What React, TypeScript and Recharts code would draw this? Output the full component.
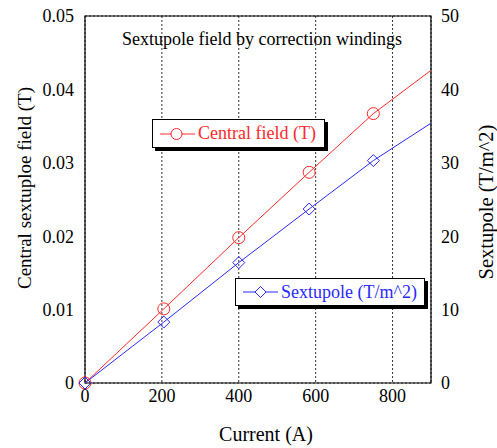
import { ComposedChart, Line, XAxis, YAxis, CartesianGrid, ReferenceArea } from "recharts"

const current = [0, 205, 400, 583, 750, 900]
const centralField = [0, 0.0101, 0.0198, 0.0287, 0.0367, 0.0426]
const sextupole = [0, 8.3, 16.4, 23.7, 30.3, 35.4]
// last point is the extrapolated fit end, drawn without a marker
const measured = [true, true, true, true, true, false]

const xTicks = [0, 200, 400, 600, 800]
const leftTicks = [0, 0.01, 0.02, 0.03, 0.04, 0.05]
const rightTicks = [0, 10, 20, 30, 40, 50]

const RED = "#ff2a2a"
const BLUE = "#2a2aff"
const FONT = "Liberation Serif, DejaVu Serif, serif"

const data = current.map((x, i) => ({
  x,
  field: centralField[i],
  sext: sextupole[i],
  measured: measured[i],
}))

function CircleDot(props: any) {
  const { cx, cy, payload } = props
  if (!payload?.measured) return <g />
  return <circle cx={cx} cy={cy} r={6} fill="none" stroke={RED} strokeWidth={1} />
}

function DiamondDot(props: any) {
  const { cx, cy, payload } = props
  if (!payload?.measured) return <g />
  const r = 6
  return (
    <path
      d={`M${cx},${cy - r} L${cx + r},${cy} L${cx},${cy + r} L${cx - r},${cy} Z`}
      fill="none"
      stroke={BLUE}
      strokeWidth={1}
    />
  )
}

const tickStyle = { fontFamily: FONT, fontSize: 18, fill: "#000" }

function LegendBox({ left, top, width, height, color, label, marker }: any) {
  return (
    <div
      style={{
        position: "absolute",
        left,
        top,
        width,
        height,
        border: "1.5px solid #000",
        boxShadow: "3px 3px 0 #000",
        background: "#fff",
        display: "flex",
        alignItems: "center",
        fontFamily: FONT,
        fontSize: 18,
        color,
        boxSizing: "border-box",
      }}
    >
      <svg width={39} height={20} style={{ marginLeft: 6, flex: "none" }}>
        <line x1={1} y1={10} x2={36} y2={10} stroke={color} />
        {marker === "circle" ? (
          <circle cx={17.5} cy={10} r={5.5} fill="#fff" stroke={color} />
        ) : (
          <path d="M18.5,4.5 L24,10 L18.5,15.5 L13,10 Z" fill="#fff" stroke={color} />
        )}
      </svg>
      <span style={{ whiteSpace: "nowrap" }}>{label}</span>
    </div>
  )
}

export default function App() {
  return (
    <div style={{ position: "absolute", left: 0, top: 0, width: 497, height: 448, background: "#fff", fontFamily: FONT }}>
      <ComposedChart
        width={497}
        height={448}
        data={data}
        margin={{ top: 16, right: 0, bottom: 0, left: 0 }}
        style={{ fontFamily: FONT }}
      >
        <CartesianGrid stroke="#333" strokeDasharray="2 2" strokeWidth={1} />
        <XAxis
          dataKey="x"
          type="number"
          domain={[0, 900]}
          ticks={xTicks}
          tickLine={false}
          axisLine={false}
          tickMargin={0}
          height={65}
          tick={tickStyle}
          label={{
            content: () => (
              <text x={266} y={441} textAnchor="middle" fontFamily={FONT} fontSize={20} fill="#000">
                Current (A)
              </text>
            ),
          }}
        />
        <YAxis
          yAxisId="left"
          domain={[0, 0.05]}
          ticks={leftTicks}
          tickFormatter={(v: number) => (v === 0 ? "0" : v.toFixed(2))}
          tickLine={false}
          axisLine={false}
          tickMargin={5}
          width={85}
          tick={tickStyle}
          label={{
            content: () => (
              <text
                x={24}
                y={188}
                textAnchor="middle"
                dominantBaseline="central"
                transform="rotate(-90 24 188)"
                fontFamily={FONT}
                fontSize={19}
                fill="#000"
              >
                Central sextuploe field (T)
              </text>
            ),
          }}
        />
        <YAxis
          yAxisId="right"
          orientation="right"
          domain={[0, 50]}
          ticks={rightTicks}
          tickLine={false}
          axisLine={false}
          tickMargin={4}
          width={66}
          tick={tickStyle}
          label={{
            content: () => (
              <text
                x={486}
                y={202}
                textAnchor="middle"
                dominantBaseline="central"
                transform="rotate(-90 486 202)"
                fontFamily={FONT}
                fontSize={20.5}
                fill="#000"
              >
                Sextupole (T/m^2)
              </text>
            ),
          }}
        />
        <ReferenceArea
          yAxisId="left"
          x1={0}
          x2={900}
          y1={0}
          y2={0.05}
          fill="none"
          stroke="#000"
          strokeWidth={1.2}
          ifOverflow="visible"
        />
        <Line
          yAxisId="left"
          dataKey="field"
          type="linear"
          stroke={RED}
          strokeWidth={1}
          dot={<CircleDot />}
          activeDot={false}
          isAnimationActive={false}
        />
        <Line
          yAxisId="right"
          dataKey="sext"
          type="linear"
          stroke={BLUE}
          strokeWidth={1}
          dot={<DiamondDot />}
          activeDot={false}
          isAnimationActive={false}
        />
      </ComposedChart>
      <div
        style={{
          position: "absolute",
          left: 0,
          width: 524,
          top: 30,
          lineHeight: "18px",
          textAlign: "center",
          fontFamily: FONT,
          fontSize: 18,
          color: "#000",
          whiteSpace: "nowrap",
        }}
      >
        Sextupole field by correction windings
      </div>
      <LegendBox left={152} top={119} width={173} height={29} color={RED} label="Central field (T)" marker="circle" />
      <LegendBox left={235} top={278} width={190} height={28} color={BLUE} label="Sextupole (T/m^2)" marker="diamond" />
    </div>
  )
}
